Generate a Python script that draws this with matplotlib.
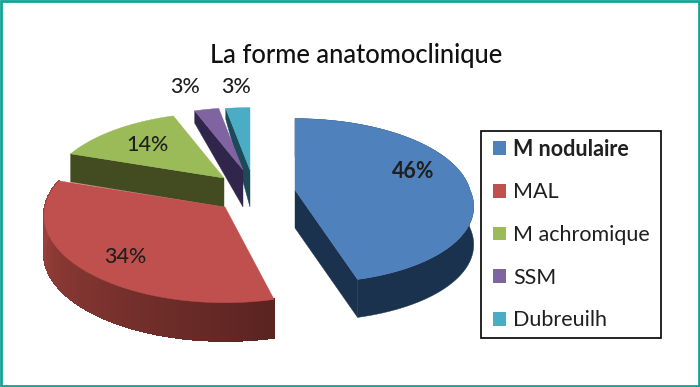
import numpy as np
import matplotlib
matplotlib.use("Agg")
import matplotlib.pyplot as plt
from matplotlib.patches import Patch, Rectangle

# Data
labels = ["M nodulaire", "MAL", "M achromique", "SSM", "Dubreuilh"]
values = [46, 34, 14, 3, 3]

# Colours
top_colors = ["#4f81bd", "#c0504d", "#9bbb59", "#8064a2", "#4bacc6"]
side_colors = ["#1b324f", "#8a3a37", "#434c20", "#30254a", "#1c4a58"]

# Projection of each exploded slice:
# centre x, centre y, rx, ry, perspective, depth, depth falloff, front shear
slice_geo = [
    (295, 190, 175, 82, 0.13, 38, 0.0, 14),
    (225, 207, 180, 87, 0.10, 38, 0.0, 0),
    (224, 178, 173, 84, 0.22, 29, 0.1, 0),
    (243, 170, 165, 80, 0.22, 37, 0.72, 0),
    (250, 170, 165, 80, 0.22, 37, 0.72, 0),
]
label_pos = [(413, 171), (125, 257), (147, 145), (185, 87), (236, 87)]

fig = plt.figure(figsize=(7, 3.87), dpi=100)
plt.rcParams['font.family'] = ['Lato', 'DejaVu Sans']
ax = fig.add_axes([0, 0, 1, 1])
ax.set_xlim(0, 700)
ax.set_ylim(387, 0)
ax.axis('off')

ax.add_patch(Rectangle((1, 1), 698, 385, fc='white', ec='#12a594', lw=2))


def project(geo, t, r=1.0):
    # t is clockwise from 12 o'clock, in radians
    cx, cy, rx, ry, k, d, m, sh = geo
    X = r * np.sin(t)
    Y = r * np.cos(t)
    s = 1 - k * Y
    return cx + rx * X * s + sh * np.maximum(-Y, 0), cy - ry * Y * s, d * (1 - m * Y)


def draw_slice(i, t0, t1):
    geo = slice_geo[i]
    ts = np.linspace(t0, t1, 80)
    x, y, d = project(geo, ts)
    cx, cy = geo[0], geo[1]
    cd = geo[5]

    # radial wall on the start edge (slices on the right and the two small ones)
    if i in (0, 3, 4):
        wx, wy, wd = (x[-1], y[-1], d[-1]) if i == 0 else (x[0], y[0], d[0])
        ax.fill([cx, wx, wx, cx], [cy, wy, wy + wd, cy + cd],
                color=side_colors[i], lw=0.3)
    if i == 2:
        ax.fill([cx, x[0], x[0], cx], [cy, y[0], y[0] + d[0], cy + cd],
                color=side_colors[i], lw=0.3)

    # outer wall where it faces the viewer
    if i == 1:
        # red slice wall is shaded from left to right
        c_left = np.array(matplotlib.colors.to_rgb("#a5443f"))
        c_right = np.array(matplotlib.colors.to_rgb("#5a2421"))
        for j in range(len(ts) - 1):
            f = j / (len(ts) - 2)
            col = c_right + (c_left - c_right) * f
            ax.fill([x[j], x[j + 1], x[j + 1], x[j]],
                    [y[j], y[j + 1], y[j + 1] + d[j + 1], y[j] + d[j]],
                    color=col, lw=1.0, antialiased=False)
    elif i == 0:
        ax.fill(np.r_[x, x[::-1]], np.r_[y, (y + d)[::-1]],
                color=side_colors[i], lw=0.3)

    ax.fill(np.r_[cx, x], np.r_[cy, y], color=top_colors[i], lw=0.3)


edges = 2 * np.pi * np.r_[0, np.cumsum(values)] / sum(values)
for i in [4, 3, 2, 0, 1]:
    draw_slice(i, edges[i], edges[i + 1])

for i, v in enumerate(values):
    ax.text(label_pos[i][0], label_pos[i][1], "%d%%" % v, ha='center', va='center',
            fontsize=15.5, color='#1f1f1f', fontweight='medium' if i else 'bold')

ax.text(356, 56, "La forme anatomoclinique", ha='center', va='center',
        fontsize=18.4, color='#111111', fontweight='medium')

# legend frame drawn apart so its padding can differ top and bottom
ax.add_patch(Rectangle((481, 131), 180, 207, fc='white', ec='black', lw=1.2))
handles = [Patch(fc=c, ec='none') for c in top_colors]
leg = ax.legend(handles, labels, loc='upper left', bbox_to_anchor=(481, 127),
                bbox_transform=ax.transData, fontsize=15.5, frameon=False,
                handlelength=0.6, handleheight=0.6,
                handletextpad=0.35, labelspacing=1.05, borderpad=0.55, borderaxespad=0,
                labelcolor='#1f1f1f')
leg.get_texts()[0].set_fontweight('bold')

fig.savefig('out.png', dpi=100)
